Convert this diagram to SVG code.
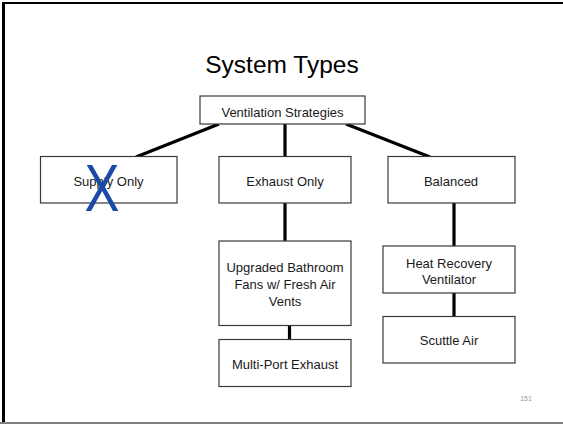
<svg xmlns="http://www.w3.org/2000/svg" width="563" height="424" viewBox="0 0 563 424">
<style>
.box{fill:#fff;stroke:#3a3a3a;stroke-width:1.2}
.lbl{font-family:"Liberation Sans",Arial,sans-serif;font-size:13px;fill:#1a1a1a;text-anchor:middle}
.con{stroke:#000;stroke-width:3.2;fill:none}
</style>
<rect x="0" y="0" width="563" height="424" fill="#fff"/>
<line x1="3.5" y1="2" x2="3.5" y2="424" stroke="#000" stroke-width="3"/>
<line x1="2" y1="3" x2="563" y2="3" stroke="#000" stroke-width="2"/>
<line x1="0" y1="423" x2="563" y2="423" stroke="#808080" stroke-width="2"/>
<text x="282" y="73" font-family="Liberation Sans,Arial,sans-serif" font-size="24.5" fill="#000" text-anchor="middle">System Types</text>
<g id="connectors">
<line class="con" x1="219" y1="124" x2="136" y2="157"/>
<line class="con" x1="285" y1="124" x2="285" y2="157"/>
<line class="con" x1="346" y1="124" x2="430" y2="157"/>
<line class="con" x1="285" y1="203" x2="285" y2="241"/>
<line class="con" x1="289.5" y1="326" x2="289.5" y2="340"/>
<line class="con" x1="454" y1="203" x2="454" y2="246"/>
<line class="con" x1="454" y1="293" x2="454" y2="316"/>
</g>
<g id="ventilation-strategies">
<rect class="box" x="200" y="96" width="165" height="28"/>
<text class="lbl" x="282.5" y="117">Ventilation Strategies</text>
</g>
<g id="supply-only">
<rect class="box" x="40.5" y="156.5" width="136.5" height="46.5"/>
<text class="lbl" x="108.5" y="186">Supply Only</text>
<text x="102" y="210.5" font-family="Liberation Sans,Arial,sans-serif" font-size="66" fill="#1b4aa6" text-anchor="middle" textLength="35" lengthAdjust="spacingAndGlyphs">X</text>
</g>
<g id="exhaust-only">
<rect class="box" x="219" y="156.5" width="132" height="46.5"/>
<text class="lbl" x="285" y="186">Exhaust Only</text>
</g>
<g id="balanced">
<rect class="box" x="388" y="156.5" width="127" height="46.5"/>
<text class="lbl" x="451" y="186">Balanced</text>
</g>
<g id="upgraded-bathroom-fans">
<rect class="box" x="219" y="241" width="132" height="84.5"/>
<text class="lbl" x="285" y="272">Upgraded Bathroom</text>
<text class="lbl" x="285" y="289">Fans w/ Fresh Air</text>
<text class="lbl" x="285" y="305.5">Vents</text>
</g>
<g id="multi-port-exhaust">
<rect class="box" x="219" y="339.5" width="132" height="47"/>
<text class="lbl" x="285" y="368.5">Multi-Port Exhaust</text>
</g>
<g id="heat-recovery-ventilator">
<rect class="box" x="383" y="246" width="132" height="47"/>
<text class="lbl" x="449" y="268">Heat Recovery</text>
<text class="lbl" x="449" y="284">Ventilator</text>
</g>
<g id="scuttle-air">
<rect class="box" x="383" y="316.5" width="132" height="46.5"/>
<text class="lbl" x="449" y="345">Scuttle Air</text>
</g>
<text x="526" y="401" font-family="Liberation Sans,Arial,sans-serif" font-size="7" fill="#9a9a9a" text-anchor="middle">151</text>
</svg>
